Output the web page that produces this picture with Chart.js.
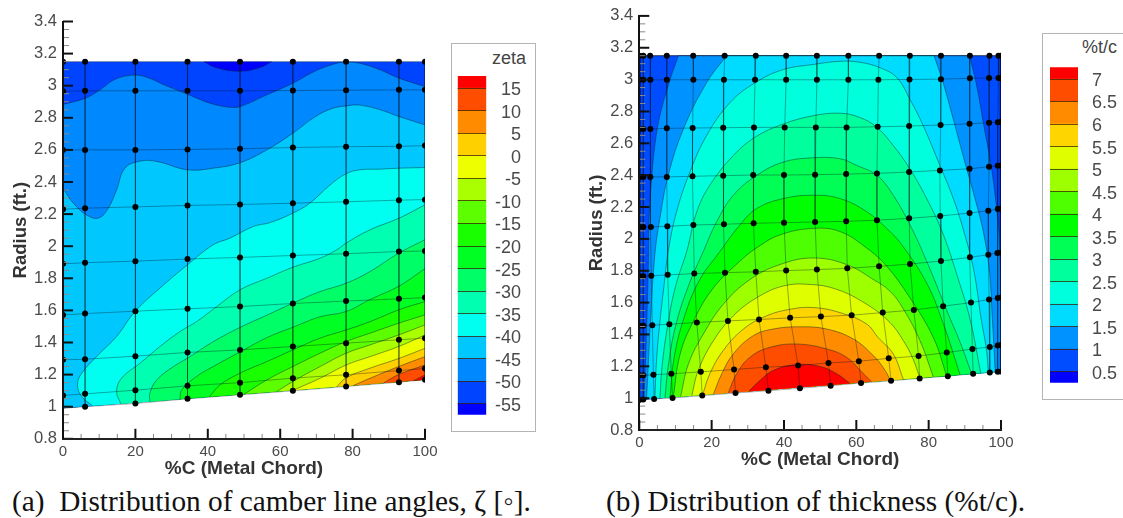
<!DOCTYPE html>
<html>
<head>
<meta charset="utf-8">
<title>Camber and thickness</title>
<script src="https://cdn.jsdelivr.net/npm/chart.js@4/dist/chart.umd.min.js"></script>
<style>
  html, body { margin: 0; padding: 0; background: #fff; overflow: hidden; }
  #page { position: relative; width: 1123px; height: 518px; overflow: hidden; }
  canvas { position: absolute; }
  .box { position: absolute; border: 1.5px solid #b4b4b4; box-sizing: border-box; background: #fff; }
  .boxTitle { position: absolute; font: 18px "Liberation Sans", Arial, sans-serif; color: #444; }
  .caption { position: absolute; font: 29.3px "Liberation Serif", "Times New Roman", serif; color: #111; white-space: pre; }
</style>
</head>
<body>
<div id="page">
  <canvas id="plotA" style="left:0;top:0"></canvas>
  <div class="box" style="left:451px;top:43px;width:85px;height:389px"></div>
  <div class="boxTitle" style="left:492px;top:48px">zeta</div>
  <canvas id="barA" style="left:457px;top:60px"></canvas>

  <canvas id="plotB" style="left:576px;top:0"></canvas>
  <div class="box" style="left:1042px;top:33px;width:100px;height:367px"></div>
  <div class="boxTitle" style="left:1082px;top:37px">%t/c</div>
  <canvas id="barB" style="left:1049px;top:41px"></canvas>

  <div class="caption" style="left:12px;top:485px">(a)  Distribution of camber line angles, ζ [◦].</div>
  <div class="caption" style="left:606px;top:485px">(b) Distribution of thickness (%t/c).</div>
</div>
<script>
// axis ticks
var xTicks = [0, 20, 40, 60, 80, 100];
var xMinor = [5, 10, 15, 25, 30, 35, 45, 50, 55, 65, 70, 75, 85, 90, 95];
var yTicks = [0.8, 1, 1.2, 1.4, 1.6, 1.8, 2, 2.2, 2.4, 2.6, 2.8, 3, 3.2, 3.4];
var yMinor = [0.85, 0.9, 0.95, 1.05, 1.1, 1.15, 1.25, 1.3, 1.35, 1.45, 1.5, 1.55, 1.65, 1.7, 1.75,
    1.85, 1.9, 1.95, 2.05, 2.1, 2.15, 2.25, 2.3, 2.35, 2.45, 2.5, 2.55, 2.65, 2.7, 2.75,
    2.85, 2.9, 2.95, 3.05, 3.1, 3.15, 3.25, 3.3, 3.35];

// legends
var zetaLevels = [-55, -50, -45, -40, -35, -30, -25, -20, -15, -10, -5, 0, 5, 10, 15];
var zetaEnds = [-57.4, 17.7];
var zetaColors = ['#0000ff', '#0044ff', '#0088ff', '#00c8ff', '#00fff0', '#00ffb0', '#00ff66', '#00ff22',
    '#1aff00', '#5dff00', '#aaff00', '#eeff00', '#ffd000', '#ff8c00', '#ff4d00', '#ff0000'];
var thickLevels = [0.5, 1, 1.5, 2, 2.5, 3, 3.5, 4, 4.5, 5, 5.5, 6, 6.5, 7];
var thickEnds = [0.256, 7.26];
var thickColors = ['#0000ff', '#004dff', '#0092ff', '#00dcff', '#00ffdc', '#00ff9d', '#00ff55', '#00ff00',
    '#4dff00', '#9dff00', '#dfff00', '#ffd500', '#ff8c00', '#ff4d00', '#ff0000'];

// measuring grid, plot a
var aCols = [0, 6.1, 20, 34.4, 48.9, 63.5, 78.2, 92.8, 100];
var aRows = [
    [3.15, 3.15, 3.15, 3.15, 3.15, 3.15, 3.15, 3.15, 3.15],
    [2.965, 2.968, 2.968, 2.968, 2.968, 2.97, 2.972, 2.974, 2.974],
    [2.6, 2.6, 2.6, 2.603, 2.607, 2.615, 2.62, 2.622, 2.627],
    [2.23, 2.237, 2.245, 2.254, 2.26, 2.268, 2.277, 2.287, 2.29],
    [1.89, 1.897, 1.907, 1.92, 1.93, 1.942, 1.953, 1.967, 1.97],
    [1.572, 1.58, 1.595, 1.61, 1.624, 1.643, 1.658, 1.672, 1.68],
    [1.292, 1.296, 1.315, 1.338, 1.354, 1.375, 1.396, 1.417, 1.427],
    [1.07, 1.08, 1.103, 1.13, 1.15, 1.178, 1.199, 1.225, 1.238],
    [0.99, 1, 1.02, 1.049, 1.074, 1.099, 1.126, 1.153, 1.168]
];

// contours of zeta
var zetaM55 = [[39, 3.15], [42.4, 3.112], [48.9, 3.09], [54.4, 3.113], [57.6, 3.15]];
var zetaM50 = [[0, 2.883], [6.2, 2.922], [10.2, 2.974], [14.4, 3.04], [19.4, 3.066], [23.1, 3.053], [28.6, 2.999], [34.4, 2.947], [40.6, 2.891], [46.1, 2.866], [48.9, 2.87], [56.3, 2.943], [63.5, 3.016], [70, 3.095], [75.6, 3.14], [78.2, 3.148], [82, 3.14], [87.6, 3.099], [92.8, 3.047], [100, 2.995]];
var zetaM45 = [[0, 2.361], [2.85, 2.268], [6.5, 2.195], [9.8, 2.175], [12.5, 2.237], [14.8, 2.351], [17.1, 2.486], [21.3, 2.53], [25.9, 2.528], [34.4, 2.476], [41.5, 2.486], [48.9, 2.52], [56.3, 2.6], [63.5, 2.704], [69.1, 2.798], [73.8, 2.854], [78.2, 2.874], [82, 2.879], [87.6, 2.85], [92.8, 2.808], [100, 2.756]];
var zetaM40 = [[8.2, 1.005], [5.2, 1.063], [4, 1.136], [5.2, 1.209], [10.2, 1.333], [14.8, 1.437], [19.9, 1.593], [26.8, 1.739], [34.4, 1.884], [41.5, 2.009], [46.1, 2.05], [52.6, 2.123], [57.2, 2.147], [63.5, 2.206], [68.2, 2.268], [73.8, 2.382], [78.2, 2.451], [82, 2.476], [87.6, 2.48], [92.8, 2.486], [100, 2.49]];
var zetaM35 = [[16, 1.017], [14.8, 1.095], [16.2, 1.178], [21.3, 1.271], [26.8, 1.375], [32.3, 1.468], [36.9, 1.53], [41.5, 1.607], [48.9, 1.728], [56.3, 1.8], [63.5, 1.869], [71, 1.925], [75.6, 1.977], [78.2, 2.019], [84.8, 2.102], [92.8, 2.174], [100, 2.258]];
var zetaM30 = [[24, 1.031], [24, 1.084], [25.9, 1.167], [30.5, 1.25], [34.4, 1.302], [41.5, 1.405], [49, 1.495], [56.3, 1.57], [63.5, 1.645], [71, 1.717], [78.2, 1.769], [84.8, 1.842], [92.7, 1.956], [100, 2.04]];
var zetaM25 = [[32.3, 1.046], [32.8, 1.105], [36.9, 1.188], [41.5, 1.25], [49, 1.342], [56.3, 1.43], [63.5, 1.495], [71, 1.56], [78.2, 1.593], [85, 1.67], [92.7, 1.75], [100, 1.86]];
var zetaM20 = [[40.4, 1.061], [43.4, 1.136], [49, 1.21], [56.3, 1.281], [63.5, 1.354], [71, 1.427], [78.2, 1.478], [84.8, 1.53], [92.7, 1.603], [100, 1.655]];
var zetaM15 = [[50, 1.078], [56.3, 1.167], [63.5, 1.25], [71, 1.333], [78.2, 1.406], [84.8, 1.458], [92.7, 1.52], [100, 1.572]];
var zetaM10 = [[59, 1.094], [63.5, 1.157], [71, 1.25], [78.2, 1.333], [84.8, 1.385], [92.7, 1.447], [100, 1.51]];
var zetaM5 = [[63.5, 1.102], [71, 1.177], [78.2, 1.26], [84.8, 1.312], [92.7, 1.375], [100, 1.447]];
var zeta0 = [[75.6, 1.124], [78.2, 1.18], [84.8, 1.24], [92.7, 1.3], [100, 1.364]];
var zeta5 = [[80.2, 1.132], [84.8, 1.177], [92.7, 1.25], [100, 1.312]];
var zeta10 = [[88.5, 1.147], [92.7, 1.2], [100, 1.26]];
var zeta15 = [[96.8, 1.162], [100, 1.198]];

// measuring grid, plot b
var bRowsX = [
    [0, 1.1, 3, 7.6, 14.9, 23.6, 32.2, 40.6, 49.1, 57.8, 66.3, 74.8, 83.4, 91.4, 96.8, 99.3, 100],
    [0, 1.1, 3.05, 7.6, 14.95, 23.4, 32, 40.6, 49.1, 57.8, 66.1, 74.7, 83.4, 91.4, 96.7, 99.3, 100],
    [0, 1.1, 3.05, 7.6, 14.75, 23.2, 31.7, 40.2, 48.8, 57.3, 65.9, 74.6, 83.3, 91.3, 96.7, 99.1, 100],
    [0, 1.1, 3.05, 7.6, 14.7, 23.2, 31.5, 40, 48.6, 57.2, 65.7, 74.6, 83.1, 91.3, 96.7, 99.1, 100],
    [0, 1.1, 3.2, 7.75, 14.95, 23.4, 31.6, 40, 48.6, 57.2, 65.7, 74.6, 83.2, 91.3, 96.5, 99.1, 100],
    [0, 1.1, 3.3, 7.85, 15.2, 23.7, 32.2, 40.6, 49.1, 57.5, 66.3, 74.85, 83.4, 91.4, 96.5, 99, 100],
    [0, 1.1, 3.6, 8.3, 15.9, 24.5, 33.1, 41.7, 50.2, 58.7, 67.3, 75.9, 84, 91.7, 96.7, 99.1, 100],
    [0, 1.1, 3.9, 8.85, 17, 26.2, 35, 43.9, 52.3, 60.7, 68.96, 77.2, 85, 92.1, 96.9, 99.1, 100],
    [0, 1.1, 4.1, 9.2, 17.4, 26.6, 35.7, 44.4, 52.9, 61.3, 69.6, 77.5, 85.3, 92.3, 96.9, 99.1, 100]
];
var bRowsY = [
    [3.15, 3.15, 3.15, 3.15, 3.15, 3.15, 3.15, 3.15, 3.15, 3.15, 3.15, 3.15, 3.15, 3.15, 3.15, 3.15, 3.15],
    [2.999, 2.999, 2.999, 2.999, 2.999, 2.999, 2.999, 2.999, 2.999, 2.999, 2.999, 3.001, 3.003, 3.008, 3.01, 3.01, 3.01],
    [2.69, 2.69, 2.69, 2.694, 2.696, 2.698, 2.7, 2.7, 2.7, 2.7, 2.704, 2.708, 2.715, 2.723, 2.729, 2.733, 2.735],
    [2.389, 2.389, 2.389, 2.389, 2.393, 2.397, 2.401, 2.401, 2.403, 2.407, 2.411, 2.42, 2.43, 2.44, 2.453, 2.459, 2.46],
    [2.075, 2.075, 2.075, 2.079, 2.087, 2.092, 2.098, 2.102, 2.106, 2.11, 2.117, 2.129, 2.144, 2.162, 2.177, 2.187, 2.19],
    [1.766, 1.766, 1.768, 1.774, 1.782, 1.788, 1.793, 1.801, 1.807, 1.815, 1.828, 1.842, 1.861, 1.884, 1.901, 1.911, 1.915],
    [1.454, 1.454, 1.458, 1.464, 1.475, 1.485, 1.494, 1.504, 1.512, 1.521, 1.537, 1.554, 1.577, 1.6, 1.62, 1.629, 1.632],
    [1.143, 1.143, 1.147, 1.153, 1.165, 1.18, 1.194, 1.205, 1.221, 1.232, 1.25, 1.265, 1.286, 1.309, 1.321, 1.33, 1.333],
    [0.989, 0.991, 0.995, 1.001, 1.016, 1.032, 1.047, 1.062, 1.078, 1.095, 1.109, 1.124, 1.138, 1.153, 1.161, 1.165, 1.167]
];

// contours of thickness, the first three run out through the top edge
var thick05L = [[0.2, 0.99], [0.4, 3.15]];
var thick05R = [[99.7, 3.15], [99.8, 1.167]];
var thick1L = [[1.3, 0.991], [1.85, 1.319], [2.5, 1.84], [2.7, 2.129], [3.4, 2.378], [4.3, 2.586], [5.7, 2.773], [8.5, 3], [10.8, 3.15]];
var thick1R = [[91.3, 3.15], [93.3, 2.96], [95.1, 2.731], [97.4, 2.44], [98.8, 2.19], [99.5, 2.02], [99.8, 1.63], [99.8, 1.166]];
var thick15L = [[2, 0.993], [2.5, 1.215], [3.2, 1.527], [4.3, 1.9], [5.7, 2.129], [8, 2.399], [12.2, 2.69], [18.6, 2.98], [24.1, 3.15]];
var thick15R = [[81.5, 3.15], [84, 2.98], [86.8, 2.752], [90, 2.482], [92.8, 2.254], [95.1, 2.046], [96.8, 1.8], [97.6, 1.5], [98.1, 1.3], [98.4, 1.163]];
var thick2 = [[4.3, 0.997], [4.8, 1.25], [5.8, 1.5], [6.8, 1.7], [8, 1.921], [10.3, 2.17], [14, 2.42], [18.6, 2.648], [25.1, 2.856], [32, 2.98], [39.8, 3.063], [48.1, 3.095], [55.5, 3.115], [61, 3.109], [66.6, 3.074], [71.2, 3.012], [74.8, 2.877], [78.5, 2.71], [83.1, 2.461], [86.8, 2.254], [90, 2.025], [92.5, 1.8], [94.5, 1.5], [96, 1.3], [96.5, 1.16]];
var thick25 = [[5.7, 0.999], [6.3, 1.2], [7.8, 1.45], [10, 1.7], [13.1, 1.921], [15.9, 2.17], [19.5, 2.337], [26, 2.523], [32, 2.638], [39.8, 2.721], [48.1, 2.773], [55.5, 2.789], [61, 2.762], [65.7, 2.7], [70.2, 2.586], [74.8, 2.44], [79.9, 2.233], [84, 2.03], [88, 1.76], [91.5, 1.49], [94.4, 1.156]];
var thick3 = [[7.1, 1.002], [8, 1.2], [10, 1.45], [13.5, 1.7], [17.7, 1.921], [21.4, 2.108], [26, 2.274], [32.5, 2.399], [39.8, 2.482], [48.1, 2.509], [55.5, 2.503], [60.1, 2.461], [65.7, 2.399], [70.2, 2.274], [75.3, 2.067], [80, 1.83], [85, 1.55], [88.7, 1.35], [91.9, 1.152]];
var thick35 = [[8.5, 1.004], [9.6, 1.25], [12.3, 1.5], [16.5, 1.735], [22.3, 1.921], [27.8, 2.087], [32.5, 2.191], [39.8, 2.253], [48.1, 2.274], [55.5, 2.253], [62.9, 2.17], [69.3, 2.046], [73, 1.95], [79.5, 1.72], [84, 1.47], [88.7, 1.146]];
var thick4 = [[9.4, 1.006], [11.3, 1.278], [15, 1.486], [20.5, 1.693], [27.8, 1.86], [32.5, 1.945], [38.9, 2.025], [48.1, 2.066], [55.5, 2.046], [62.9, 1.942], [68.4, 1.828], [74.8, 1.631], [81.3, 1.38], [85, 1.139]];
var thick45 = [[11.4, 1.009], [13.6, 1.216], [17.7, 1.402], [23.2, 1.589], [30.6, 1.745], [38.9, 1.839], [48.1, 1.88], [57.3, 1.839], [64.7, 1.745], [69.3, 1.672], [73, 1.56], [77.6, 1.361], [81.3, 1.133]];
var thick5 = [[14.5, 1.015], [16.3, 1.174], [20.5, 1.361], [26, 1.517], [32.5, 1.631], [39.8, 1.704], [47.2, 1.714], [54.6, 1.683], [62.9, 1.589], [69.3, 1.475], [73, 1.361], [75.6, 1.25], [77.6, 1.126]];
var thick55 = [[17.5, 1.02], [19.5, 1.153], [23.2, 1.299], [28.8, 1.434], [35.2, 1.517], [41.7, 1.558], [48.1, 1.569], [55.5, 1.537], [62.9, 1.465], [66, 1.381], [70.2, 1.278], [73, 1.118]];
var thick6 = [[20.5, 1.025], [22.8, 1.153], [26, 1.278], [31.5, 1.392], [37, 1.434], [44.4, 1.448], [51.8, 1.434], [59.2, 1.371], [64.7, 1.267], [67.5, 1.19], [69.5, 1.112]];
var thick65 = [[24.6, 1.033], [26.9, 1.153], [30.6, 1.257], [36.1, 1.319], [43.5, 1.34], [51.8, 1.309], [57.3, 1.257], [62, 1.153], [64.2, 1.103]];
var thick7 = [[30.2, 1.042], [33.4, 1.112], [37, 1.174], [43.5, 1.211], [50, 1.199], [54.6, 1.153], [58.3, 1.092]];

// outlines of the two blades
var aDomain = [[0, 0.99], [0, 3.15], [100, 3.15], [100, 1.168]];
var bDomain = [[0, 0.989], [0, 3.15], [100, 3.15], [100, 1.167]];

var TICK_FONT = '"Liberation Sans", Arial, sans-serif';
var GRID_LINE = 'rgba(0,20,30,0.4)';

function toPoints(list) {
    return list.map(function (p) { return { x: p[0], y: p[1] }; });
}

// doubled points keep the corners sharp under the spline
function doubled(list) {
    var out = [];
    list.forEach(function (p) { out.push(p, p); });
    return out;
}

function bandSets(curve, color, closing) {
    var outline = doubled([curve[0]]).concat(curve.slice(1, -1), doubled([curve[curve.length - 1]]), doubled(closing || []));
    return [
        { data: toPoints(outline), showLine: true, fill: 'shape', backgroundColor: color, borderWidth: 0, borderColor: 'transparent', pointRadius: 0, tension: 0.4 },
        { data: toPoints(curve), showLine: true, fill: false, borderColor: 'rgba(0,30,40,0.55)', borderWidth: 0.8, pointRadius: 0, tension: 0.4 }
    ];
}

function joined(left, right) {
    return left.concat([left[left.length - 1], right[0]], right);
}

function gridSets(rowsX, rowsY, skipDot) {
    var sets = [];
    var dots = [];
    rowsY.forEach(function (row, r) {
        var line = row.map(function (y, i) { return [rowsX[r][i], y]; });
        sets.push({ data: toPoints(line), showLine: true, fill: false, borderColor: GRID_LINE, borderWidth: 0.9, pointRadius: 0 });
    });
    rowsY[0].forEach(function (v, c) {
        var line = rowsY.map(function (row, r) { return [rowsX[r][c], row[c]]; });
        sets.push({ data: toPoints(line), showLine: true, fill: false, borderColor: GRID_LINE, borderWidth: 0.9, pointRadius: 0 });
    });
    rowsY.forEach(function (row, r) {
        row.forEach(function (y, i) {
            if (skipDot && r === rowsY.length - 1 && i === 0) return;
            dots.push([rowsX[r][i], y]);
        });
    });
    sets.push({ data: toPoints(dots), showLine: false, backgroundColor: '#000', borderWidth: 0, pointRadius: 3 });
    return sets;
}

var innerTicks = {
    id: 'innerTicks',
    afterDatasetsDraw: function (chart) {
        var ctx = chart.ctx;
        var a = chart.chartArea;
        var xs = chart.scales.x;
        var ys = chart.scales.y;
        function mark(x1, y1, x2, y2, color, width) {
            ctx.strokeStyle = color;
            ctx.lineWidth = width;
            ctx.beginPath();
            ctx.moveTo(x1, y1);
            ctx.lineTo(x2, y2);
            ctx.stroke();
        }
        ctx.save();
        xMinor.forEach(function (v) { var p = xs.getPixelForValue(v); mark(p, a.bottom, p, a.bottom - 5, '#888', 1); });
        yMinor.forEach(function (v) { var p = ys.getPixelForValue(v); mark(a.left, p, a.left + 6, p, '#888', 1); });
        xTicks.forEach(function (v) { var p = xs.getPixelForValue(v); mark(p, a.bottom, p, a.bottom - 10, '#111', 2); });
        yTicks.forEach(function (v) { var p = ys.getPixelForValue(v); mark(a.left, p, a.left + 10, p, '#111', 2); });
        ctx.restore();
    }
};

function drawPlot(id, w, h, left, top, sets) {
    var el = document.getElementById(id);
    el.width = w;
    el.height = h;
    el.style.width = w + 'px';
    el.style.height = h + 'px';
    return new Chart(el.getContext('2d'), {
        type: 'scatter',
        data: { datasets: sets.slice().reverse() },
        plugins: [innerTicks],
        options: {
            responsive: false,
            animation: false,
            layout: { padding: { top: top, right: 20, bottom: 0, left: 0 } },
            plugins: { legend: { display: false }, tooltip: { enabled: false } },
            scales: {
                x: {
                    type: 'linear', min: 0, max: 100,
                    afterBuildTicks: function (axis) { axis.ticks = xTicks.map(function (v) { return { value: v }; }); },
                    afterFit: function (axis) { axis.height = h - (top + 32.1 * 13); },
                    grid: { display: false, drawTicks: false },
                    border: { display: true, color: '#222', width: 2, z: 1 },
                    ticks: { color: '#4a4a4a', padding: 4, maxRotation: 0, autoSkip: false, font: { family: TICK_FONT, size: 15 }, callback: function (v) { return String(v); } },
                    title: { display: true, text: '%C (Metal Chord)', color: '#333', padding: { top: 0, bottom: 2 }, font: { family: TICK_FONT, size: 19, weight: 'bold' } }
                },
                y: {
                    type: 'linear', min: 0.8, max: 3.4,
                    afterBuildTicks: function (axis) { axis.ticks = yTicks.map(function (v) { return { value: v }; }); },
                    afterFit: function (axis) { axis.width = left; },
                    grid: { display: false, drawTicks: false },
                    border: { display: true, color: '#111', width: 2, z: 1 },
                    ticks: { color: '#4a4a4a', padding: 6, autoSkip: false, font: { family: TICK_FONT, size: 16.5 }, callback: function (v) { return String(v); } },
                    title: { display: true, text: 'Radius (ft.)', color: '#333', padding: { top: 10, bottom: 0 }, font: { family: TICK_FONT, size: 18.5, weight: 'bold' } }
                }
            }
        }
    });
}

function drawColorBar(id, w, h, pad, barW, levels, ends, colors, crossAlign, tickPad) {
    var edges = [ends[0]].concat(levels, [ends[1]]);
    var sets = colors.map(function (c, i) {
        return { data: [[edges[i], edges[i + 1]]], backgroundColor: c, borderWidth: 0, barPercentage: 1, categoryPercentage: 1, grouped: false };
    });
    var el = document.getElementById(id);
    el.width = w;
    el.height = h;
    el.style.width = w + 'px';
    el.style.height = h + 'px';
    return new Chart(el.getContext('2d'), {
        type: 'bar',
        data: { labels: [''], datasets: sets },
        options: {
            responsive: false,
            animation: false,
            layout: { padding: { top: pad[0], bottom: pad[1], left: pad[2], right: 0 } },
            plugins: { legend: { display: false }, tooltip: { enabled: false } },
            scales: {
                x: { display: false },
                y: {
                    type: 'linear', position: 'right', min: ends[0], max: ends[1],
                    afterBuildTicks: function (axis) { axis.ticks = levels.map(function (v) { return { value: v }; }); },
                    afterFit: function (axis) { axis.width = w - pad[2] - barW; },
                    grid: { color: 'rgba(60,30,0,0.75)', lineWidth: 1, z: 1, drawTicks: false },
                    border: { display: false },
                    ticks: { color: '#4a4a4a', padding: tickPad, crossAlign: crossAlign, labelOffset: 2, autoSkip: false, font: { family: TICK_FONT, size: 18 }, callback: function (v) { return String(v); } }
                }
            }
        }
    });
}

// plot a, lowest band first
var setsA = [];
setsA = setsA.concat(bandSets(doubled(aDomain), zetaColors[1]).slice(0, 1));
setsA = setsA.concat(bandSets(zetaM55, zetaColors[0]));
setsA = setsA.concat(bandSets(zetaM50, zetaColors[2], [[100, 1.168], [0, 0.99]]));
setsA = setsA.concat(bandSets(zetaM45, zetaColors[3], [[100, 1.168], [0, 0.99]]));
[zetaM40, zetaM35, zetaM30, zetaM25, zetaM20, zetaM15, zetaM10, zetaM5, zeta0, zeta5, zeta10, zeta15].forEach(function (curve, i) {
    setsA = setsA.concat(bandSets(curve, zetaColors[i + 4], [[100, 1.168]]));
});
setsA = setsA.concat(gridSets(aRows.map(function () { return aCols; }), aRows, true));
drawPlot('plotA', 445, 482, 63, 21.5, setsA);

// plot b
var setsB = [];
setsB = setsB.concat(bandSets(doubled(bDomain), thickColors[0]).slice(0, 1));
setsB = setsB.concat(bandSets(doubled(thick05L.concat(thick05R)), thickColors[1]));
setsB = setsB.concat(bandSets(joined(thick1L, thick1R), thickColors[2]));
setsB = setsB.concat(bandSets(joined(thick15L, thick15R), thickColors[3]));
[thick2, thick25, thick3, thick35, thick4, thick45, thick5, thick55, thick6, thick65, thick7].forEach(function (curve, i) {
    setsB = setsB.concat(bandSets(curve, thickColors[i + 4]));
});
setsB = setsB.concat(gridSets(bRowsX, bRowsY, false));
drawPlot('plotB', 445, 473, 63.3, 12.7, setsB);

drawColorBar('barA', 64, 370, [16, 15.3, 0.7], 28.6, zetaLevels, zetaEnds, zetaColors, 'far', 0);
drawColorBar('barB', 74, 370, [26.3, 28.3, 1], 28, thickLevels, thickEnds, thickColors, 'near', 14);
</script>
</body>
</html>
